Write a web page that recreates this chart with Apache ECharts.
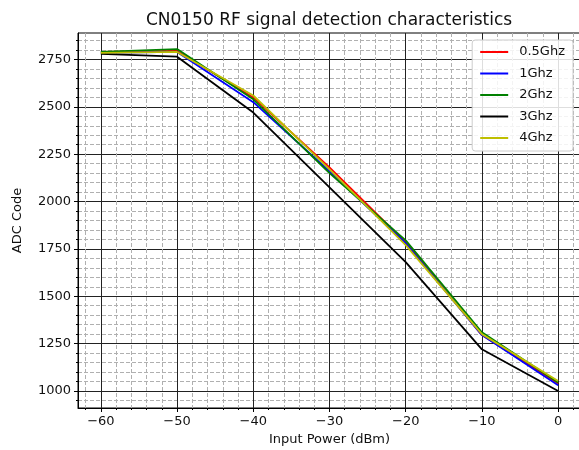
<!DOCTYPE html>
<html>
<head>
<meta charset="utf-8">
<script src="https://cdn.jsdelivr.net/npm/echarts@6/dist/echarts.min.js"></script>
<style>
html, body { margin: 0; padding: 0; background: #fff; }
#chart { width: 579px; height: 450px; }
</style>
</head>
<body>
<div id="chart"></div>
<script>
var chart = echarts.init(document.getElementById('chart'));

// input power (dBm)
var power = [-60, -50, -40, -30, -20, -10, 0];
// ADC code per frequency
var f05 = [2790, 2795, 2550, 2180, 1785, 1295, 1040];
var f1 = [2785, 2790, 2525, 2160, 1780, 1295, 1030];
var f2 = [2790, 2805, 2540, 2150, 1795, 1310, 1045];
var f3 = [2780, 2765, 2470, 2075, 1680, 1220, 1000];
var f4 = [2785, 2790, 2560, 2170, 1770, 1300, 1052];

var names = ['0.5Ghz', '1Ghz', '2Ghz', '3Ghz', '4Ghz'];
var colors = ['#ff0000', '#0000ff', '#008000', '#000000', '#bfbf00'];

var xTicks = [-60, -50, -40, -30, -20, -10, 0];
var yTicks = [1000, 1250, 1500, 1750, 2000, 2250, 2500, 2750];
var xMin = -63, xMax = 3, yMin = 910, yMax = 2890;

// minor grid positions
var xMinor = [];
for (var v = -62; v <= 2; v += 2) {
    if (xTicks.indexOf(v) == -1) xMinor.push(v);
}
var yMinor = [];
for (var w = 950; w <= 2850; w += 50) {
    if (yTicks.indexOf(w) == -1) yMinor.push(w);
}

var font = 'DejaVu Sans';

function pairs(ys) {
    return power.map(function (x, i) { return [x, ys[i]]; });
}

var allSeries = [f05, f1, f2, f3, f4].map(function (ys, i) {
    return {
        name: names[i],
        type: 'line',
        data: pairs(ys),
        symbol: 'none',
        lineStyle: { color: colors[i], width: 1.8 },
        itemStyle: { color: colors[i] },
        z: 3 + i
    };
});

var option = {
    animation: false,
    title: {
        text: 'CN0150 RF signal detection characteristics',
        left: 324,
        top: 7,
        textAlign: 'center',
        textStyle: { fontFamily: font, fontSize: 17, fontWeight: 'normal', color: '#111' }
    },
    legend: {
        orient: 'vertical',
        right: 6,
        top: 40,
        data: names.map(function (n) { return { name: n, icon: 'rect' }; }),
        itemWidth: 28,
        itemHeight: 2,
        itemGap: 7.5,
        padding: [5, 8, 6, 8],
        backgroundColor: 'rgba(255,255,255,0.85)',
        borderColor: '#cccccc',
        borderWidth: 1,
        borderRadius: 3,
        textStyle: { fontFamily: font, fontSize: 13, lineHeight: 14, color: '#111', padding: [0, 0, 0, 6] }
    },
    grid: {
        left: 78,
        right: -2,
        top: 33,
        bottom: 42,
        outerBoundsMode: 'none',
        show: true,
        borderColor: '#000',
        borderWidth: 1,
        backgroundColor: 'transparent'
    },
    xAxis: [{
        type: 'value',
        min: xMin,
        max: xMax,
        name: 'Input Power (dBm)',
        nameLocation: 'middle',
        nameGap: 25,
        nameTextStyle: { fontFamily: font, fontSize: 13, color: '#111' },
        axisLine: { show: true, onZero: false, lineStyle: { color: '#000', width: 1 } },
        axisTick: { show: true, length: 4, customValues: xTicks, lineStyle: { color: '#000' } },
        axisLabel: {
            customValues: xTicks,
            margin: 7,
            fontFamily: font,
            fontSize: 13,
            color: '#111',
            formatter: function (val) { return val < 0 ? '\u2212' + Math.abs(val) : String(val); }
        },
        splitLine: { show: true, lineStyle: { color: '#222', width: 1 } }
    }, {
        type: 'value',
        min: xMin,
        max: xMax,
        position: 'bottom',
        axisLine: { show: false, onZero: false },
        axisTick: { show: true, length: 2, customValues: xMinor, lineStyle: { color: '#000' } },
        axisLabel: { show: false },
        splitLine: { show: true, lineStyle: { color: '#b0b0b0', width: 1, type: [4, 2] } }
    }],
    yAxis: [{
        type: 'value',
        min: yMin,
        max: yMax,
        name: 'ADC Code',
        nameLocation: 'middle',
        nameGap: 54,
        nameTextStyle: { fontFamily: font, fontSize: 13, color: '#111' },
        axisLine: { show: true, onZero: false, lineStyle: { color: '#000', width: 1 } },
        axisTick: { show: true, length: 4, customValues: yTicks, lineStyle: { color: '#000' } },
        axisLabel: {
            customValues: yTicks,
            margin: 7,
            fontFamily: font,
            fontSize: 13,
            color: '#111',
            formatter: function (val) { return String(val); }
        },
        splitLine: { show: true, lineStyle: { color: '#222', width: 1 } }
    }, {
        type: 'value',
        min: yMin,
        max: yMax,
        position: 'left',
        axisLine: { show: false, onZero: false },
        axisTick: { show: true, length: 2, customValues: yMinor, lineStyle: { color: '#000' } },
        axisLabel: { show: false },
        splitLine: { show: true, lineStyle: { color: '#b0b0b0', width: 1, type: [4, 2] } }
    }],
    series: allSeries
};

chart.setOption(option);
</script>
</body>
</html>
